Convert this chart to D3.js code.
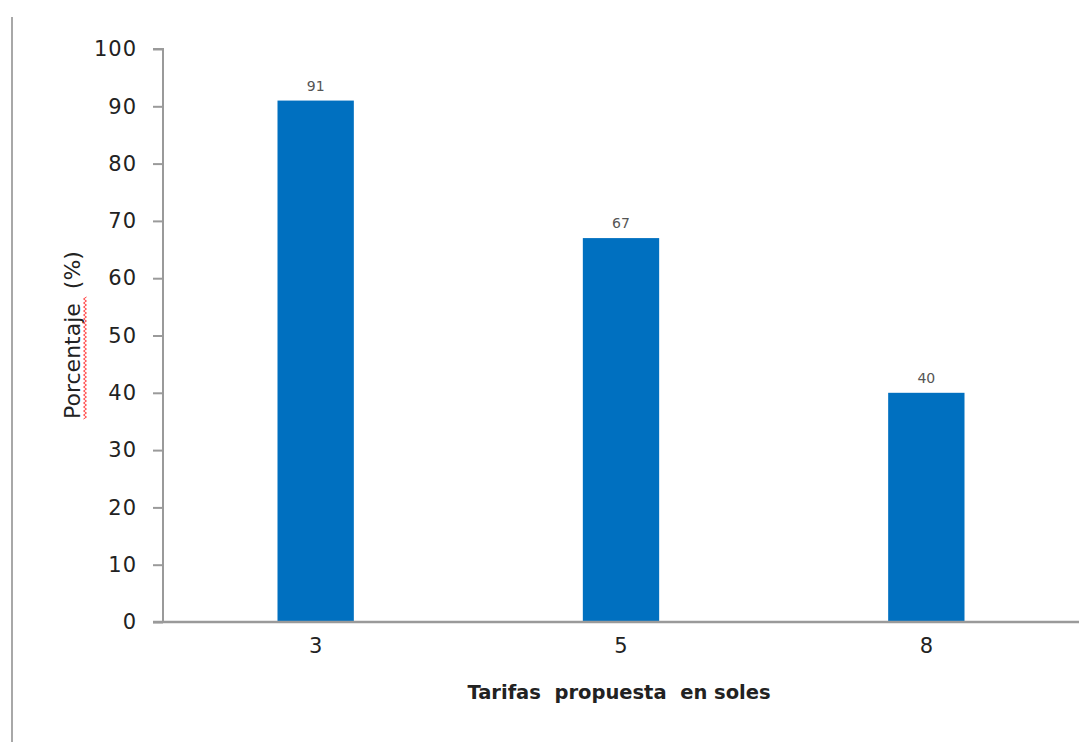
<!DOCTYPE html>
<html>
<head>
<meta charset="utf-8">
<script src="https://cdn.jsdelivr.net/npm/d3@7"></script>
<style>
  html, body { margin: 0; padding: 0; background: #fff; }
  svg { display: block; }
</style>
</head>
<body>
<svg id="chart" width="1091" height="742"></svg>
<script>
// Tariff categories (soles) and share of respondents (%)
const categories = ["3", "5", "8"];
const values = [91, 67, 40];
const yTicks = [0, 10, 20, 30, 40, 50, 60, 70, 80, 90, 100];

const svg = d3.select("#chart");
const margin = { left: 163, right: 1079, top: 49, bottom: 622 };

const x = d3.scaleBand()
  .domain(categories)
  .range([margin.left, margin.right])
  .paddingInner(0.75)
  .paddingOuter(0.375);

const y = d3.scaleLinear()
  .domain([0, 100])
  .range([margin.bottom, margin.top]);

const axisColor = "#9a9a9a";
const textColor = "#222222";
const font = "'DejaVu Sans', Verdana, sans-serif";

// Frame line at the left edge
svg.append("line")
  .attr("x1", 12).attr("x2", 12)
  .attr("y1", 17).attr("y2", 742)
  .attr("stroke", "#a8a8a8").attr("stroke-width", 2);

// Bars
svg.append("g").selectAll("rect")
  .data(values)
  .join("rect")
  .attr("x", (d, i) => x(categories[i]))
  .attr("width", x.bandwidth())
  .attr("y", d => y(d))
  .attr("height", d => y(0) - y(d))
  .attr("fill", "#0070C0");

// Value labels above bars
svg.append("g").selectAll("text")
  .data(values)
  .join("text")
  .attr("x", (d, i) => x(categories[i]) + x.bandwidth() / 2)
  .attr("y", d => y(d) - 10)
  .attr("text-anchor", "middle")
  .attr("font-family", font)
  .attr("font-size", 14)
  .attr("fill", "#555555")
  .text(d => d);

// Y axis
const yAxis = d3.axisLeft(y).tickValues(yTicks).tickSize(10).tickPadding(16);
const gy = svg.append("g")
  .attr("transform", `translate(${margin.left},0)`)
  .call(yAxis);
gy.select(".domain").attr("stroke", axisColor).attr("stroke-width", 2)
  .attr("d", `M-10,${y(100)}H0V${y(0)}`);
gy.selectAll(".tick line").attr("stroke", axisColor).attr("stroke-width", 2);
gy.selectAll(".tick text")
  .attr("font-family", font).attr("font-size", 21)
  .attr("letter-spacing", 1)
  .attr("fill", textColor);

// X axis
const xAxis = d3.axisBottom(x).tickSize(0).tickPadding(16);
const gx = svg.append("g")
  .attr("transform", `translate(0,${margin.bottom})`)
  .call(xAxis);
gx.select(".domain").attr("stroke", axisColor).attr("stroke-width", 2.5)
  .attr("d", `M${margin.left - 10},0H${margin.right}`);
gx.selectAll(".tick text")
  .attr("font-family", font).attr("font-size", 21).attr("fill", textColor);

// Axis titles
svg.append("text")
  .attr("x", 619).attr("y", 699)
  .attr("text-anchor", "middle")
  .attr("font-family", font)
  .attr("font-size", 19.5)
  .attr("font-weight", "bold")
  .attr("fill", textColor)
  .attr("xml:space", "preserve")
  .text("Tarifas  propuesta  en soles");

const yTitle = svg.append("g").attr("transform", "translate(80,419) rotate(-90)");
yTitle.append("text")
  .attr("x", 0).attr("y", 0)
  .attr("font-family", font)
  .attr("font-size", 22)
  .attr("fill", textColor)
  .attr("xml:space", "preserve")
  .text("Porcentaje  (%)");

// Wavy spell-check underline beneath "Porcentaje"
const wave = d3.range(0, 124, 2).map((t, i) => [t, 5 + (i % 2 ? 1.5 : -1.5)]);
yTitle.append("path")
  .attr("d", d3.line()(wave))
  .attr("fill", "none")
  .attr("stroke", "#ff3b3b")
  .attr("stroke-width", 1);
</script>
</body>
</html>
